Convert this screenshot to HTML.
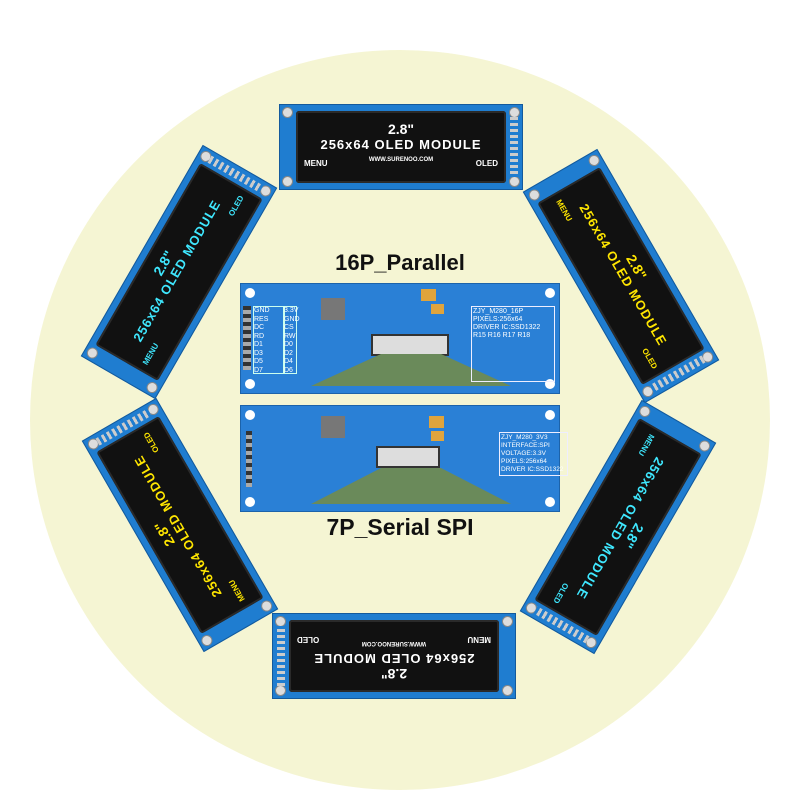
<!DOCTYPE html>
<html><head><style>
body{margin:0;width:800px;height:800px;background:#fff;position:relative;overflow:hidden;font-family:"Liberation Sans",sans-serif}
.circ{position:absolute;left:30px;top:50px;width:740px;height:740px;border-radius:50%;background:#f5f5d3}
.mod{position:absolute;width:244px;height:86px;margin:-43px 0 0 -122px;background:#1f7dd0;border:1px solid #145a9c;box-sizing:border-box}
.mod .scr{position:absolute;left:16px;top:6px;width:210px;height:72px;background:#111;border-radius:3px;box-shadow:inset 0 0 0 2px #2a2a2a}
.mod .h{position:absolute;width:9px;height:9px;border-radius:50%;background:#ddd;border:1px solid #888}
.mod .pins{position:absolute;right:4px;top:12px;width:8px;height:60px;background:repeating-linear-gradient(#ccc 0 3px,#1f7dd0 3px 6px)}
.t{position:absolute;width:100%;text-align:center;font-weight:bold;color:#fff}
.pcb{position:absolute;left:240px;width:320px;background:#2a80d6;border:1px solid #1c63aa;box-sizing:border-box}
.pcb .ph{position:absolute;width:10px;height:10px;border-radius:50%;background:#fff}
.lbl{position:absolute;width:800px;text-align:center;font-weight:bold;font-size:22px;color:#111}
</style></head><body>
<div class="circ"></div>

<div class="lbl" style="top:250px">16P_Parallel</div>

<!-- PCB top -->
<div class="pcb" style="top:283px;height:111px">
 <div class="ph" style="left:4px;top:4px"></div><div class="ph" style="right:4px;top:4px"></div><div class="ph" style="left:4px;bottom:4px"></div><div class="ph" style="right:4px;bottom:4px"></div>
 <div style="position:absolute;left:2px;top:22px;width:8px;height:64px;background:repeating-linear-gradient(#333 0 4px,#aaa 4px 8px)"></div>
 <div style="position:absolute;left:12px;top:22px;width:30px;height:66px;border:1px solid #cfe;color:#fff;font-size:7px;line-height:8.5px">GND<br>RES<br>DC<br>RD<br>D1<br>D3<br>D5<br>D7</div>
 <div style="position:absolute;left:42px;top:22px;width:12px;height:66px;border:1px solid #cfe;color:#fff;font-size:7px;line-height:8.5px">3.3V<br>GND<br>CS<br>RW<br>D0<br>D2<br>D4<br>D6</div>
 <div style="position:absolute;left:80px;top:14px;width:24px;height:22px;background:#777"></div>
 <div style="position:absolute;left:130px;top:50px;width:74px;height:18px;background:#ddd;border:2px solid #333"></div>
 <div style="position:absolute;left:70px;top:70px;width:200px;height:32px;background:#6a8a5a;clip-path:polygon(0 100%,35% 0,65% 0,100% 100%)"></div>
 <div style="position:absolute;left:180px;top:5px;width:15px;height:12px;background:#e0a43c"></div>
 <div style="position:absolute;left:190px;top:20px;width:13px;height:10px;background:#e0a43c"></div>
 <div style="position:absolute;left:230px;top:22px;width:80px;height:72px;border:1px solid #eef;color:#fff;font-size:7px;line-height:8px;padding:1px">ZJY_M280_16P<br>PIXELS:256x64<br>DRIVER IC:SSD1322<br>R15 R16 R17 R18</div>
</div>

<!-- PCB bottom -->
<div class="pcb" style="top:405px;height:107px">
 <div class="ph" style="left:4px;top:4px"></div><div class="ph" style="right:4px;top:4px"></div><div class="ph" style="left:4px;bottom:4px"></div><div class="ph" style="right:4px;bottom:4px"></div>
 <div style="position:absolute;left:5px;top:25px;width:6px;height:56px;background:repeating-linear-gradient(#333 0 4px,#aaa 4px 8px)"></div>
 <div style="position:absolute;left:80px;top:10px;width:24px;height:22px;background:#777"></div>
 <div style="position:absolute;left:135px;top:40px;width:60px;height:18px;background:#ddd;border:2px solid #333"></div>
 <div style="position:absolute;left:70px;top:62px;width:200px;height:36px;background:#6a8a5a;clip-path:polygon(0 100%,35% 0,65% 0,100% 100%)"></div>
 <div style="position:absolute;left:188px;top:10px;width:15px;height:12px;background:#e0a43c"></div>
 <div style="position:absolute;left:190px;top:25px;width:13px;height:10px;background:#e0a43c"></div>
 <div style="position:absolute;left:258px;top:26px;width:65px;height:40px;border:1px solid #eef;color:#fff;font-size:6.5px;line-height:8px;padding:1px">ZJY_M280_3V3<br>INTERFACE:SPI<br>VOLTAGE:3.3V<br>PIXELS:256x64<br>DRIVER IC:SSD1322</div>
</div>

<div class="lbl" style="top:514px;font-size:23px">7P_Serial SPI</div>

<!-- modules -->
<div class="mod" style="left:401px;top:147px"><div class="scr"><div class="t" style="top:10px;font-size:14px">2.8"</div><div class="t" style="top:26px;font-size:13px;letter-spacing:1px">256x64 OLED MODULE</div><div class="t" style="top:46px;font-size:6px">WWW.SURENOO.COM</div><div style="position:absolute;left:8px;top:48px;color:#fff;font-size:8px;font-weight:bold">MENU</div><div style="position:absolute;right:8px;top:48px;color:#fff;font-size:8px;font-weight:bold">OLED</div></div><div class="h" style="left:2px;top:2px"></div><div class="h" style="left:2px;bottom:2px"></div><div class="h" style="right:2px;top:2px"></div><div class="h" style="right:2px;bottom:2px"></div><div class="pins"></div></div>

<div class="mod" style="left:394px;top:656px;transform:rotate(180deg)"><div class="scr"><div class="t" style="top:10px;font-size:14px">2.8"</div><div class="t" style="top:26px;font-size:13px;letter-spacing:1px">256x64 OLED MODULE</div><div class="t" style="top:46px;font-size:6px">WWW.SURENOO.COM</div><div style="position:absolute;left:8px;top:48px;color:#fff;font-size:8px;font-weight:bold">MENU</div><div style="position:absolute;right:8px;top:48px;color:#fff;font-size:8px;font-weight:bold">OLED</div></div><div class="h" style="left:2px;top:2px"></div><div class="h" style="left:2px;bottom:2px"></div><div class="h" style="right:2px;top:2px"></div><div class="h" style="right:2px;bottom:2px"></div><div class="pins"></div></div>

<div class="mod" style="left:179px;top:272px;transform:rotate(-60deg)"><div class="scr"><div class="t" style="top:10px;font-size:14px;color:#3fe8ff">2.8"</div><div class="t" style="top:26px;font-size:13px;letter-spacing:1px;color:#3fe8ff">256x64 OLED MODULE</div><div style="position:absolute;left:8px;top:48px;color:#3fe8ff;font-size:8px;font-weight:bold">MENU</div><div style="position:absolute;right:8px;top:48px;color:#3fe8ff;font-size:8px;font-weight:bold">OLED</div></div><div class="h" style="left:2px;top:2px"></div><div class="h" style="left:2px;bottom:2px"></div><div class="h" style="right:2px;top:2px"></div><div class="h" style="right:2px;bottom:2px"></div><div class="pins"></div></div>

<div class="mod" style="left:621px;top:276px;transform:rotate(60deg)"><div class="scr"><div class="t" style="top:10px;font-size:14px;color:#ffe600">2.8"</div><div class="t" style="top:26px;font-size:13px;letter-spacing:1px;color:#ffe600">256x64 OLED MODULE</div><div style="position:absolute;left:8px;top:48px;color:#ffe600;font-size:8px;font-weight:bold">MENU</div><div style="position:absolute;right:8px;top:48px;color:#ffe600;font-size:8px;font-weight:bold">OLED</div></div><div class="h" style="left:2px;top:2px"></div><div class="h" style="left:2px;bottom:2px"></div><div class="h" style="right:2px;top:2px"></div><div class="h" style="right:2px;bottom:2px"></div><div class="pins"></div></div>

<div class="mod" style="left:180px;top:525px;transform:rotate(-120deg)"><div class="scr"><div class="t" style="top:10px;font-size:14px;color:#ffe600">2.8"</div><div class="t" style="top:26px;font-size:13px;letter-spacing:1px;color:#ffe600">256x64 OLED MODULE</div><div style="position:absolute;left:8px;top:48px;color:#ffe600;font-size:8px;font-weight:bold">MENU</div><div style="position:absolute;right:8px;top:48px;color:#ffe600;font-size:8px;font-weight:bold">OLED</div></div><div class="h" style="left:2px;top:2px"></div><div class="h" style="left:2px;bottom:2px"></div><div class="h" style="right:2px;top:2px"></div><div class="h" style="right:2px;bottom:2px"></div><div class="pins"></div></div>

<div class="mod" style="left:618px;top:527px;transform:rotate(120deg)"><div class="scr"><div class="t" style="top:10px;font-size:14px;color:#3fe8ff">2.8"</div><div class="t" style="top:26px;font-size:13px;letter-spacing:1px;color:#3fe8ff">256x64 OLED MODULE</div><div style="position:absolute;left:8px;top:48px;color:#3fe8ff;font-size:8px;font-weight:bold">MENU</div><div style="position:absolute;right:8px;top:48px;color:#3fe8ff;font-size:8px;font-weight:bold">OLED</div></div><div class="h" style="left:2px;top:2px"></div><div class="h" style="left:2px;bottom:2px"></div><div class="h" style="right:2px;top:2px"></div><div class="h" style="right:2px;bottom:2px"></div><div class="pins"></div></div>
</body></html>
